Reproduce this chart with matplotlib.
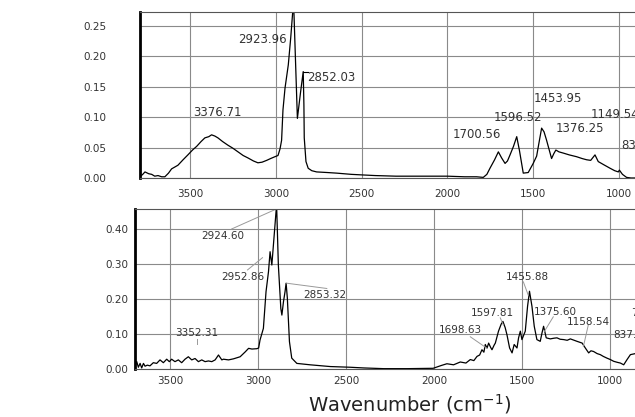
import matplotlib.pyplot as plt

# top spectrum (wavenumber, absorbance)
top_wn = [3791, 3775, 3762, 3740, 3723, 3705, 3686, 3665, 3646, 3625, 3607, 3570, 3540, 3512,
          3485, 3461, 3435, 3413, 3390, 3374, 3355, 3337, 3310, 3279, 3250, 3220, 3190, 3162,
          3130, 3104, 3080, 3053, 3030, 3005, 2987, 2975, 2966, 2958, 2946, 2927, 2913, 2901,
          2895, 2874, 2856, 2840, 2836, 2834, 2824, 2811, 2790, 2762, 2700, 2645, 2560, 2492,
          2420, 2300, 2200, 2100, 2000, 1900, 1830, 1791, 1770, 1752, 1725, 1703, 1684, 1664,
          1650, 1635, 1615, 1596, 1580, 1558, 1529, 1500, 1480, 1465, 1451, 1437, 1423, 1393,
          1380, 1368, 1350, 1325, 1290, 1247, 1215, 1189, 1165, 1140, 1121, 1090, 1052, 1025,
          1004, 998, 980, 956, 930, 905]
top_ab = [0.002, 0.006, 0.010, 0.007, 0.006, 0.003, 0.004, 0.002, 0.002, 0.008, 0.015, 0.021,
          0.030, 0.038, 0.046, 0.052, 0.060, 0.066, 0.068, 0.071, 0.069, 0.066, 0.060, 0.054,
          0.049, 0.043, 0.037, 0.033, 0.028, 0.025, 0.026, 0.029, 0.032, 0.035, 0.037, 0.048,
          0.062, 0.112, 0.148, 0.186, 0.230, 0.274, 0.280, 0.098, 0.140, 0.175, 0.120, 0.066,
          0.027, 0.016, 0.012, 0.010, 0.009, 0.008, 0.006, 0.005, 0.004, 0.003, 0.003, 0.003,
          0.003, 0.002, 0.002, 0.001, 0.006, 0.016, 0.030, 0.043, 0.033, 0.024, 0.028, 0.038,
          0.052, 0.068, 0.045, 0.008, 0.009, 0.024, 0.036, 0.060, 0.082, 0.076, 0.063, 0.032,
          0.040, 0.046, 0.043, 0.041, 0.038, 0.035, 0.032, 0.030, 0.029, 0.038, 0.027, 0.022,
          0.016, 0.012, 0.010, 0.013, 0.006, 0.001, 0.000, 0.000]

# bottom spectrum
bot_wn = [3699, 3689, 3680, 3670, 3661, 3651, 3642, 3629, 3614, 3595, 3576, 3557, 3538, 3519,
          3504, 3491, 3472, 3453, 3434, 3415, 3396, 3377, 3358, 3339, 3320, 3301, 3282, 3263,
          3244, 3225, 3206, 3197, 3168, 3140, 3102, 3073, 3054, 3035, 3007, 2997, 2989, 2970,
          2955, 2941, 2932, 2922, 2913, 2903, 2895, 2885, 2871, 2865, 2856, 2847, 2841, 2834,
          2822, 2809, 2780, 2705, 2591, 2477, 2400, 2288, 2150, 2006, 1960, 1928, 1890, 1852,
          1820, 1795, 1775, 1757, 1742, 1729, 1718, 1710, 1700, 1691, 1680, 1672, 1660, 1653,
          1635, 1620, 1610, 1597, 1587, 1572, 1558, 1546, 1530, 1521, 1511, 1502, 1483, 1470,
          1459, 1445, 1432, 1417, 1398, 1388, 1379, 1364, 1341, 1320, 1303, 1285, 1265, 1245,
          1227, 1189, 1160, 1142, 1123, 1110, 1095, 1075, 1057, 1040, 1019, 1000, 981, 960,
          943, 924, 905, 886, 858]
bot_ab = [0.007, 0.021, 0.005, 0.016, 0.003, 0.016, 0.008, 0.011, 0.009, 0.018, 0.016, 0.026,
          0.018, 0.028, 0.021, 0.028, 0.021, 0.026, 0.018, 0.028, 0.035, 0.026, 0.030, 0.021,
          0.026, 0.021, 0.023, 0.021, 0.026, 0.040, 0.026, 0.028, 0.026, 0.029, 0.035, 0.049,
          0.059, 0.057, 0.058, 0.060, 0.083, 0.116, 0.221, 0.278, 0.335, 0.297, 0.354, 0.421,
          0.470, 0.297, 0.173, 0.154, 0.192, 0.221, 0.245, 0.203, 0.078, 0.031, 0.016, 0.012,
          0.007, 0.005, 0.003, 0.001, 0.001, 0.002, 0.010, 0.015, 0.012, 0.020, 0.017, 0.027,
          0.024, 0.036, 0.040, 0.055, 0.048, 0.070, 0.060, 0.074, 0.062, 0.055, 0.068, 0.074,
          0.108, 0.128, 0.136, 0.118, 0.098, 0.060, 0.046, 0.070, 0.060, 0.089, 0.108, 0.084,
          0.108, 0.179, 0.222, 0.179, 0.122, 0.084, 0.079, 0.103, 0.122, 0.089, 0.086, 0.088,
          0.089, 0.085, 0.084, 0.082, 0.086, 0.079, 0.074, 0.060, 0.046, 0.052, 0.050, 0.044,
          0.041, 0.036, 0.031, 0.027, 0.022, 0.019, 0.017, 0.012, 0.027, 0.041, 0.044]

# peak labels: text, x, y
top_labels = [("3376.71", 3337, 0.107), ("2923.96", 3080, 0.227), ("1700.56", 1828, 0.071),
              ("1596.52", 1589, 0.100), ("1453.95", 1356, 0.130), ("1376.25", 1227, 0.082)]
top_left_labels = [("2852.03", 2818, 0.166), ("1149.54", 1163, 0.104), ("837.65", 985, 0.054)]

bot_labels = [("2924.60", 3199, 0.380), ("2952.86", 3085, 0.263), ("2853.32", 2619, 0.211),
              ("3352.31", 3347, 0.103), ("1698.63", 1852, 0.111), ("1597.81", 1672, 0.161),
              ("1455.88", 1473, 0.264), ("1375.60", 1312, 0.164), ("1158.54", 1123, 0.135)]
bot_left_labels = [("837.31", 981, 0.097), ("721.22", 880, 0.160)]
bot_leaders = [((3150, 0.400), (2905, 0.455)), ((3060, 0.283), (2975, 0.318)),
               ((2837, 0.245), (2610, 0.230)), ((3345, 0.085), (3345, 0.070)),
               ((1795, 0.092), (1700, 0.059)), ((1625, 0.146), (1608, 0.126)),
               ((1494, 0.249), (1466, 0.211)), ((1375, 0.107), (1324, 0.149)),
               ((1153, 0.064), (1125, 0.126))]

plt.rcParams['font.family'] = ['DejaVu Sans']
fig = plt.figure(figsize=(6.35, 4.17), dpi=100)

W, H = 635.0, 417.0
ax1 = fig.add_axes([140 / W, (H - 178) / H, 582 / W, 166 / H])
ax2 = fig.add_axes([135 / W, (H - 369) / H, 581 / W, 160 / H])

txt = '#333333'
for ax in (ax1, ax2):
    ax.grid(True, color='#8a8a8a', lw=0.8)
    ax.set_axisbelow(True)
    ax.spines['left'].set_linewidth(2.0)
    ax.spines['right'].set_visible(False)
    ax.spines['top'].set_color('#555555')
    ax.spines['bottom'].set_color('#555555')
    ax.tick_params(length=0, labelsize=7.5, colors=txt)
    ax.set_xticks([3500, 3000, 2500, 2000, 1500, 1000, 500])

ax1.tick_params(axis='y', pad=24)
ax1.tick_params(axis='x', pad=8)
ax2.tick_params(axis='y', pad=5)
ax2.tick_params(axis='x', pad=5)

ax1.plot(top_wn, top_ab, color='black', lw=0.9, clip_on=True)
ax1.set_xlim(3791, 400)
ax1.set_ylim(0, 0.273)
ax1.set_yticks([0, 0.05, 0.10, 0.15, 0.20, 0.25])
ax1.set_yticklabels(['0.00', '0.05', '0.10', '0.15', '0.20', '0.25'])
for t, x, y in top_labels:
    ax1.text(x, y, t, ha='center', va='center', fontsize=8.5, color=txt)
for t, x, y in top_left_labels:
    ax1.text(x, y, t, ha='left', va='center', fontsize=8.5, color=txt)
ax1.plot([2840, 2815], [0.175, 0.175], color='black', lw=0.8)

ax2.plot(bot_wn, bot_ab, color='black', lw=0.9)
ax2.set_xlim(3699, 400)
ax2.set_ylim(0, 0.457)
ax2.set_yticks([0, 0.10, 0.20, 0.30, 0.40])
ax2.set_yticklabels(['0.00', '0.10', '0.20', '0.30', '0.40'])
for t, x, y in bot_labels:
    ax2.text(x, y, t, ha='center', va='center', fontsize=7.5, color=txt)
for t, x, y in bot_left_labels:
    ax2.text(x, y, t, ha='left', va='center', fontsize=7.5, color=txt)
for (x0, y0), (x1, y1) in bot_leaders:
    ax2.plot([x0, x1], [y0, y1], color='#999999', lw=0.7)

fig.text(410 / W, 1 - 404 / H, 'Wavenumber (cm$^{-1}$)', ha='center', va='center',
         fontsize=14, color='#222222')

fig.savefig('out.png', dpi=100)
